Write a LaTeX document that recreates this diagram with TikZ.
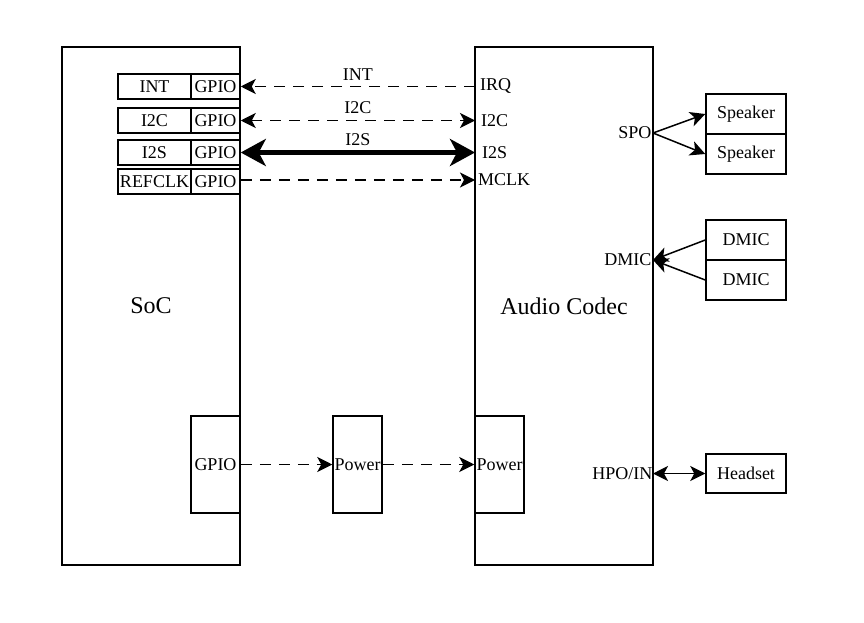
\documentclass[tikz,border=0pt]{standalone}
\usepackage{fontspec}
\setmainfont{Liberation Serif}
\usetikzlibrary{arrows.meta}
\begin{document}
\begin{tikzpicture}[x=1pt,y=-1pt,
  box/.style={draw, line width=1.5pt, inner sep=0pt, font=\fontsize{18}{20}\selectfont},
  big/.style={font=\fontsize{24}{26}\selectfont},
  lbl/.style={inner sep=0pt, font=\fontsize{18}{20}\selectfont},
  conn/.style={line width=1.5pt, -{Stealth[length=15pt,width=15pt,inset=4pt]}},
  biconn/.style={line width=1.5pt, {Stealth[length=15pt,width=15pt,inset=4pt]}-{Stealth[length=15pt,width=15pt,inset=4pt]}},
  dsh/.style={dash pattern=on 11pt off 8pt},
  thickconn/.style={line width=4.5pt, {Stealth[length=25pt,width=27pt,inset=7pt]}-{Stealth[length=25pt,width=27pt,inset=7pt]}}
]
\useasboundingbox (0,0) rectangle (864,623);

% main blocks
\node[box, big, minimum width=178pt, minimum height=518pt] (soc) at (151,306) {SoC};
\node[box, big, minimum width=178pt, minimum height=518pt] (codec) at (564,306) {Audio Codec};

% SoC interface boxes
\node[box, minimum width=73pt, minimum height=25pt] (intL) at (154.5,86.5) {INT};
\node[box, minimum width=49pt, minimum height=25pt] (gpioA) at (215.5,86.5) {GPIO};
\node[box, minimum width=73pt, minimum height=25pt] (i2cL) at (154.5,120.5) {I2C};
\node[box, minimum width=49pt, minimum height=25pt] (gpioB) at (215.5,120.5) {GPIO};
\node[box, minimum width=73pt, minimum height=25pt] (i2sL) at (154.5,152.5) {I2S};
\node[box, minimum width=49pt, minimum height=25pt] (gpioC) at (215.5,152.5) {GPIO};
\node[box, minimum width=73pt, minimum height=25pt] (refL) at (154.5,181.5) {REFCLK};
\node[box, minimum width=49pt, minimum height=25pt] (gpioD) at (215.5,181.5) {GPIO};

% codec port labels
\node[lbl, anchor=west, inner xsep=5pt] (irq) at (475,86.5) {IRQ};
\node[lbl, anchor=west, inner xsep=6pt] (ci2c) at (475,120.5) {I2C};
\node[lbl, anchor=west, inner xsep=7pt] (ci2s) at (475,152.5) {I2S};
\node[lbl, anchor=west, inner xsep=3pt] (mclk) at (475,180) {MCLK};

% connectors SoC <-> codec
\draw[conn, dsh] (irq.west) -- (irq.west -| gpioA.east) node[midway, lbl, above=5pt] {INT};
\draw[biconn, dsh] (gpioB.east) -- (gpioB.east -| ci2c.west) node[midway, lbl, above=6pt] {I2C};
\draw[thickconn] (gpioC.east) -- (gpioC.east -| ci2s.west) node[midway, lbl, above=5pt] {I2S};
\draw[conn, dsh] (mclk.west -| gpioD.east) -- (mclk.west);

% speakers
\node[box, minimum width=80pt, minimum height=40pt] (spk1) at (746,114) {Speaker};
\node[box, minimum width=80pt, minimum height=40pt] (spk2) at (746,154) {Speaker};
\node[lbl, anchor=east, inner xsep=1.5pt] (spo) at (653,133) {SPO};
\draw[conn] (spo.east) -- (spk1.west);
\draw[conn] (spo.east) -- (spk2.west);

% DMICs
\node[box, minimum width=80pt, minimum height=40pt] (dm1) at (746,240) {DMIC};
\node[box, minimum width=80pt, minimum height=40pt] (dm2) at (746,280) {DMIC};
\node[lbl, anchor=east, inner xsep=1.5pt] (dmic) at (653,260) {DMIC};
\draw[conn] (dm1.west) -- (dmic.east);
\draw[conn] (dm2.west) -- (dmic.east);

% headset
\node[box, minimum width=80pt, minimum height=39pt] (hs) at (746,473.5) {Headset};
\node[lbl, anchor=east, inner xsep=0.5pt] (hpo) at (653,473.5) {HPO/IN};
\draw[biconn] (hpo.east) -- (hs.west);

% power path
\node[box, minimum width=49pt, minimum height=97pt] (gpioP) at (215.5,464.5) {GPIO};
\node[box, minimum width=49pt, minimum height=97pt] (pw1) at (357.5,464.5) {Power};
\node[box, minimum width=49pt, minimum height=97pt] (pw2) at (499.5,464.5) {Power};
\draw[conn, dsh] (gpioP.east) -- (pw1.west);
\draw[conn, dsh] (pw1.east) -- (pw2.west);
\end{tikzpicture}
\end{document}
